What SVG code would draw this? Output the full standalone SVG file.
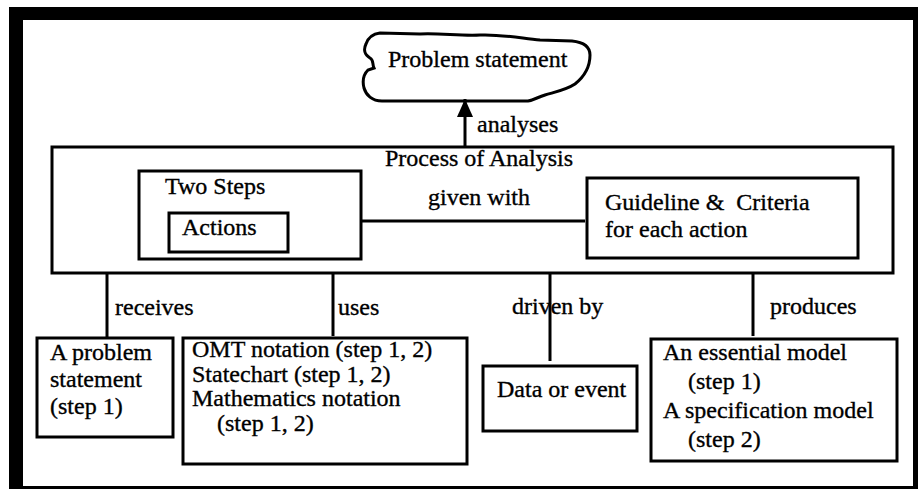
<svg xmlns="http://www.w3.org/2000/svg" width="918" height="490" viewBox="0 0 918 490">
<style>
text{font-family:"Liberation Serif","Times New Roman",serif;font-size:24px;fill:#000;stroke:#000;stroke-width:0.35}
.box{fill:#fff;stroke:#000;stroke-width:3}
.ln{stroke:#000;stroke-width:3;fill:none}
</style>
<defs>
<marker id="ah" viewBox="0 0 18 16" refX="18" refY="8" markerWidth="18" markerHeight="16" markerUnits="userSpaceOnUse" orient="auto">
<path d="M0,0 L18,8 L0,16 Z" fill="#000"/>
</marker>
</defs>
<rect width="918" height="490" fill="#fff"/>
<path id="frame" d="M9,7 H918 V489 H9 Z M23,20 V486 H913 V20 Z" fill="#000" fill-rule="evenodd"/>

<g id="cloud">
<path d="M366,44 C368,38 372,34 380,33 L420,34 C440,33 460,36 480,35 C500,34 520,38 540,40 L572,41 C582,42 590,46 590,55 C590,66 585,76 575,84 C566,90 555,92 545,95 C538,97 534,100 528,101 L382,101 C372,101 366,95 364,88 C362,80 364,74 368,70 L374,68 C372,64 374,60 370,58 C365,55 363,50 366,44 Z" fill="#fff" stroke="#000" stroke-width="3"/>
<text x="388" y="67">Problem statement</text>
</g>

<g id="process">
<rect class="box" x="52" y="147" width="841" height="126"/>
<text x="385" y="166">Process of Analysis</text>
</g>

<g id="twosteps">
<rect class="box" x="139" y="171" width="222" height="88"/>
<text x="165" y="194">Two Steps</text>
</g>

<g id="actions">
<rect class="box" x="169" y="213" width="119" height="39"/>
<text x="182" y="235">Actions</text>
</g>

<g id="guideline">
<rect class="box" x="587" y="178" width="271" height="80"/>
<text x="605" y="210">Guideline &amp;&#160; Criteria</text>
<text x="605" y="237">for each action</text>
</g>

<g id="problem">
<rect class="box" x="37" y="338" width="136" height="99"/>
<text x="50" y="360">A problem</text>
<text x="50" y="387">statement</text>
<text x="50" y="414">(step 1)</text>
</g>

<g id="notation">
<rect class="box" x="183" y="338" width="284" height="126"/>
<text x="192" y="357">OMT notation (step 1, 2)</text>
<text x="192" y="382">Statechart (step 1, 2)</text>
<text x="192" y="406">Mathematics notation</text>
<text x="217" y="431">(step 1, 2)</text>
</g>

<g id="data">
<rect class="box" x="483" y="366" width="154" height="65"/>
<text x="497" y="397">Data or event</text>
</g>

<g id="models">
<rect class="box" x="651" y="339" width="246" height="122"/>
<text x="663" y="360">An essential model</text>
<text x="688" y="389">(step 1)</text>
<text x="663" y="418">A specification model</text>
<text x="688" y="447">(step 2)</text>
</g>

<g id="connectors">
<line class="ln" x1="465" y1="147" x2="465" y2="99" marker-end="url(#ah)"/>
<text x="477" y="132">analyses</text>
<line class="ln" x1="361" y1="221" x2="585" y2="221"/>
<text x="428" y="205">given with</text>
<line class="ln" x1="107" y1="273" x2="107" y2="338"/>
<text x="115" y="315">receives</text>
<line class="ln" x1="333" y1="273" x2="333" y2="336"/>
<text x="338" y="315">uses</text>
<line class="ln" x1="550" y1="273" x2="550" y2="361"/>
<text x="512" y="314">driven by</text>
<line class="ln" x1="753" y1="273" x2="753" y2="336"/>
<text x="770" y="314">produces</text>
</g>
</svg>
